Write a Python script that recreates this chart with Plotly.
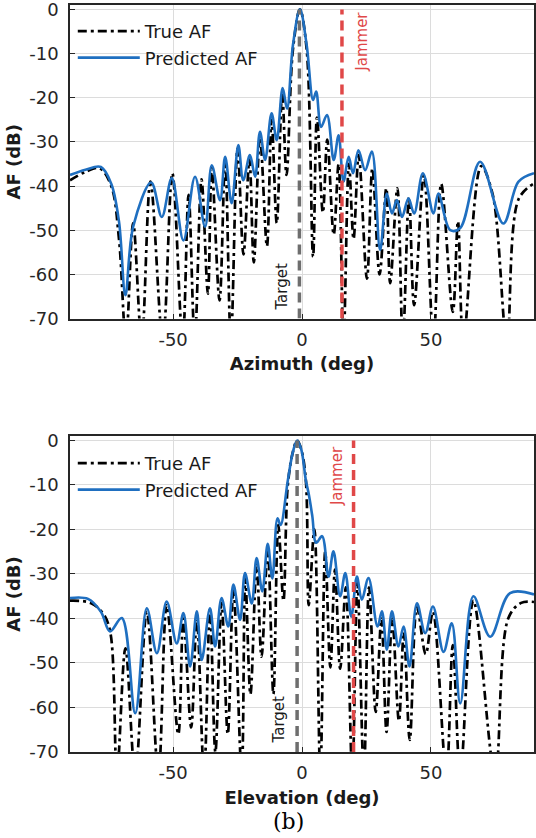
import plotly.graph_objects as go

# ---------------- data ----------------
# (a) Azimuth cut
az_true_x = [-90, -84, -78.5, -74, -71, -68.3, -65.5, -62.2, -58.8, -54, -50.3, -46.3, -44, -41.6, -39,
             -36.5, -35, -32, -29.8, -27.6, -25, -22.7, -20.4, -18.7, -16.3, -13.6, -11.8, -9.8, -7.7,
             -6, -3.5, -0.8, 1.8, 4.3, 5.8, 8.1, 9.8, 12.3, 14.2, 16.1, 18.2, 20, 22, 25.2, 27.3, 30.1,
             32.7, 34.2, 37, 39.1, 41.5, 43.5, 47.3, 51, 54, 58.5, 60.5, 62.6, 69.5, 74, 79.5, 84, 90]
az_true_y = [-38.7, -36.8, -36, -40, -52, -75, -48.4, -75, -39, -75, -37.1, -75, -42, -75, -38.5,
             -64.4, -36, -65.9, -34, -75, -31.5, -55.5, -34, -57.3, -29, -53.6, -25, -48.4, -19,
             -37.5, -9, 0, -9, -56, -24.5, -46, -29.5, -51, -35, -75, -35, -52, -33, -61, -36, -60,
             -40.5, -62, -40.5, -75, -42.5, -67, -37.5, -75, -39.5, -68.5, -48, -75, -35.5, -42, -75, -43, -39.4]

az_pred_x = [-90, -84, -78, -74, -71, -68.5, -65.5, -58.5, -54.4, -50.5, -46, -41.5, -37.6, -35, -31.8,
             -29.8, -27.3, -24.7, -22.8, -20.2, -18.2, -16.3, -14.3, -11.8, -9.8, -7.5, -5.8, -3.5,
             -0.8, 1.8, 4.3, 5.5, 7.4, 9.7, 12.3, 14.2, 16.1, 18.1, 19.8, 21.9, 24.5, 27.1, 30.3,
             32.9, 34.9, 36.8, 38.8, 41.3, 43.5, 46.9, 51, 52.9, 57.5, 61.4, 69.1, 78.1, 84, 90]
az_pred_y = [-37.5, -36.3, -35.7, -39.5, -48, -64.7, -49.2, -39.2, -47, -38.2, -52.3, -37.9, -49.2, -35.3,
             -43.2, -33.4, -43.9, -30.7, -38.7, -33, -37.9, -27.7, -34.1, -23.5, -29.6, -17.8, -22.5,
             -8, 0, -8, -20.5, -18.6, -26.6, -23.9, -34.1, -28.5, -39, -33.4, -37.1, -31.9, -36.4,
             -32.2, -54.5, -41.7, -46.2, -43.2, -47, -42.8, -46.2, -37.1, -46.2, -41.7, -50, -49.5,
             -34.5, -48.5, -39, -37.1]

az_target = -1.0
az_jammer = 15.5

# (b) Elevation cut
el_true_x = [-90, -82, -77, -74.3, -71.8, -68.5, -64.7, -60.2, -55.7, -52.5, -48, -46, -43, -40.8, -38,
             -35.7, -33.6, -31.2, -28.8, -26.6, -23.4, -22, -20, -17.6, -15.7, -13.3, -11.1, -9.2, -7.2,
             -5.5, -3.5, -1.9, -0.3, 1.5, 2.6, 4.8, 7.1, 9, 11, 12.8, 14.8, 17, 19.5, 21.5, 24, 26,
             28.6, 30.8, 32.8, 35, 37.6, 39.5, 41.8, 44.6, 48, 50.8, 56, 58.5, 61.4, 66.5, 74.9, 80, 85, 90]
el_true_y = [-36, -36.5, -39, -43.3, -75, -46.7, -75, -38.5, -75, -37, -66, -40, -64.5, -40, -75,
             -38, -70, -36.5, -66, -33.5, -75, -31, -57, -28, -48.6, -24.5, -57, -19, -36,
             -10, -2.5, 0, -2, -9, -37, -20, -75, -25, -51, -29, -51.3, -33, -75, -32, -75, -33,
             -61, -40, -65.5, -40, -63, -43, -67.3, -37.5, -48, -38.5, -75, -46, -75, -36, -75, -40, -36.5, -36.3]

el_pred_x = [-90, -83, -78, -74.5, -69.9, -64.7, -60.2, -56.3, -52.5, -48.6, -46, -43.4, -40.8, -38.9,
             -35.7, -33.7, -31.2, -28.6, -26.6, -24, -22.1, -19.5, -17.6, -15.4, -13.3, -11.5, -9.5,
             -8.3, -5.5, -3.5, -1.9, -0.3, 1.5, 2.6, 4, 5.5, 7.8, 10.3, 12.2, 14.8, 16.8, 19.1, 21.3,
             23.2, 25.8, 29.3, 31, 32.9, 34.9, 37.4, 39.4, 41.7, 44.6, 47.8, 50.8, 54.9, 58.1, 61.4,
             66.5, 73, 80.7, 90]
el_pred_y = [-35.4, -35.6, -38.5, -42.9, -39.9, -61.3, -37.7, -47.8, -36.2, -45.6, -38.8, -50.8, -38.4,
             -49.3, -37.7, -46.3, -35.4, -41.8, -32.4, -40.3, -29.8, -36.6, -26.4, -33.9, -23.2, -31,
             -17.5, -19, -9, -2.5, 0, -2, -9, -12, -17, -23, -21.5, -30.6, -24.9, -35, -29.8, -39.6,
             -30.6, -35.8, -30.9, -41.8, -38.4, -47, -38.4, -46.3, -41.8, -50.8, -36.6, -43.3, -37.3,
             -47.5, -41.1, -59.1, -35, -44.1, -34.3, -34.6]

el_target = -1.9
el_jammer = 20.0

x_ticks = [-50, 0, 50]
x_tick_text = ["-50", "0", "50"]
y_ticks = [-70, -60, -50, -40, -30, -20, -10, 0]
y_tick_text = ["-70", "-60", "-50", "-40", "-30", "-20", "-10", "0"]

# ---------------- styling ----------------
FONT = "DejaVu Sans"
TICK_COL = "#262626"
BLUE = "#1f6fc0"
RED = "#e04848"
GRAY = "#6e6e6e"
true_line = dict(color="black", width=2.7, dash="9px,4px,3px,4px", shape="spline", smoothing=1.0)
pred_line = dict(color=BLUE, width=2.6, shape="spline", smoothing=1.0)

fig = go.Figure()

def add_panel(xa, ya, leg, tx, ty, px, py, target, jammer):
    fig.add_trace(go.Scatter(x=tx, y=ty, mode="lines", name="True AF", line=true_line,
                             xaxis=xa, yaxis=ya, legend=leg))
    fig.add_trace(go.Scatter(x=px, y=py, mode="lines", name="Predicted AF", line=pred_line,
                             xaxis=xa, yaxis=ya, legend=leg))
    fig.add_trace(go.Scatter(x=[target, target], y=[-70, 0], mode="lines", showlegend=False,
                             line=dict(color=GRAY, width=3.5, dash="10px,6px"),
                             xaxis=xa, yaxis=ya, hoverinfo="skip"))
    fig.add_trace(go.Scatter(x=[jammer, jammer], y=[-70, 0], mode="lines", showlegend=False,
                             line=dict(color=RED, width=3.5, dash="10px,6px"),
                             xaxis=xa, yaxis=ya, hoverinfo="skip"))

add_panel("x", "y", "legend", az_true_x, az_true_y, az_pred_x, az_pred_y, az_target, az_jammer)
add_panel("x2", "y2", "legend2", el_true_x, el_true_y, el_pred_x, el_pred_y, el_target, el_jammer)

axis_common = dict(showline=True, linecolor=TICK_COL, linewidth=1.5, mirror=True,
                   showgrid=True, gridcolor="#dcdcdc", gridwidth=1, zeroline=False,
                   ticks="inside", ticklen=5, tickcolor=TICK_COL, automargin=False,
                   ticklabeloverflow="allow",
                   tickfont=dict(family=FONT, size=18, color=TICK_COL))

xcommon = dict(axis_common, range=[-90, 90], tickvals=x_ticks, ticktext=x_tick_text,
               ticklabelstandoff=4,
               title_font=dict(family=FONT, size=18, color="#1a1a1a"), title_standoff=9)
ycommon = dict(axis_common, range=[-70, 1], tickvals=y_ticks, ticktext=y_tick_text,
               ticklabelstandoff=6,
               title_font=dict(family=FONT, size=18, color="#1a1a1a"), title_standoff=4)

top_dom = [1 - 318.5 / 838, 1 - 5 / 838]
bot_dom = [1 - 752 / 838, 1 - 436 / 838]

leg_common = dict(xanchor="left", yanchor="top", bgcolor="rgba(0,0,0,0)",
                  font=dict(family=FONT, size=18, color="#1a1a1a"), tracegroupgap=0,
                  itemwidth=62)

fig.update_layout(
    width=536, height=838,
    margin=dict(l=70, r=2, t=0, b=0, autoexpand=False),
    paper_bgcolor="white", plot_bgcolor="white",
    xaxis=dict(xcommon, domain=[0, 1], anchor="y", title_text="<b>Azimuth (deg)</b>"),
    yaxis=dict(ycommon, domain=top_dom, anchor="x", title_text="<b>AF (dB)</b>"),
    xaxis2=dict(xcommon, domain=[0, 1], anchor="y2", title_text="<b>Elevation (deg)</b>"),
    yaxis2=dict(ycommon, domain=bot_dom, anchor="x2", title_text="<b>AF (dB)</b>"),
    legend=dict(leg_common, x=0.006, y=1 - 13 / 838),
    legend2=dict(leg_common, x=0.006, y=1 - 445 / 838),
    showlegend=True,
)

ann_font = dict(family=FONT, size=15)
fig.add_annotation(x=-7.8, y=-62.8, xref="x", yref="y", text="Target", textangle=-90,
                   showarrow=False, font=dict(ann_font, color="#1a1a1a"))
fig.add_annotation(x=23.3, y=-7.3, xref="x", yref="y", text="Jammer", textangle=-90,
                   showarrow=False, font=dict(ann_font, color=RED))
fig.add_annotation(x=-9.1, y=-62.8, xref="x2", yref="y2", text="Target", textangle=-90,
                   showarrow=False, font=dict(ann_font, color="#1a1a1a"))
fig.add_annotation(x=13.6, y=-8.0, xref="x2", yref="y2", text="Jammer", textangle=-90,
                   showarrow=False, font=dict(ann_font, color=RED))
fig.add_annotation(x=(288 - 70) / 464, y=1 - 821 / 838, xref="paper", yref="paper", text="(b)",
                   xanchor="center", yanchor="middle",
                   showarrow=False, font=dict(family="DejaVu Serif", size=22, color="black"))

fig.write_html("out.html")
